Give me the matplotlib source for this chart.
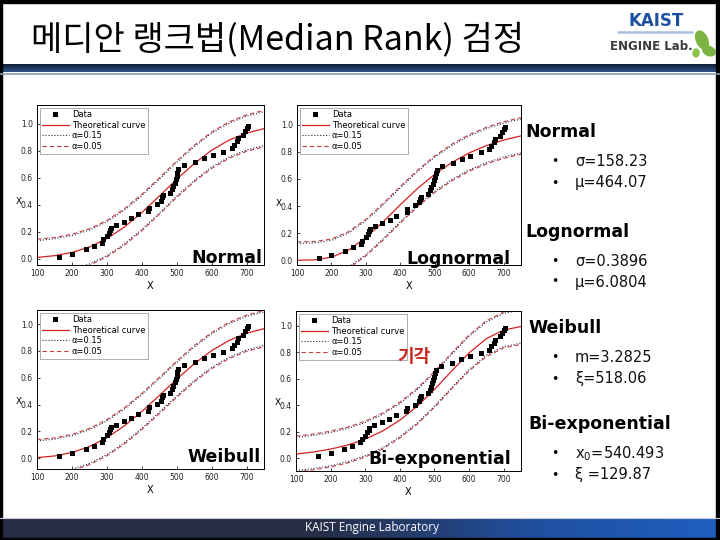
import numpy as np
import matplotlib.pyplot as plt
from matplotlib.colors import LinearSegmentedColormap
from matplotlib.patches import Ellipse, Rectangle
from matplotlib.lines import Line2D

W, H = 720, 540

# median-rank data (same for all four fits)
data_x = [163, 200, 240, 262, 285, 290, 300, 306, 310, 312, 325, 348, 370, 388,
          418, 420, 443, 455, 458, 460, 480, 486, 490, 494, 497, 500, 502, 505,
          520, 552, 578, 603, 633, 658, 663, 672, 676, 690, 695, 700, 703]
data_y = [0.015, 0.04, 0.07, 0.095, 0.12, 0.145, 0.17, 0.195, 0.215, 0.23, 0.25,
          0.275, 0.30, 0.33, 0.355, 0.38, 0.405, 0.43, 0.455, 0.47, 0.49, 0.515,
          0.54, 0.565, 0.59, 0.615, 0.64, 0.665, 0.695, 0.72, 0.745, 0.77, 0.795,
          0.82, 0.845, 0.87, 0.895, 0.92, 0.945, 0.97, 0.985]

# theoretical curves read along x
curve_x = [100, 150, 200, 250, 300, 350, 400, 450, 500, 550, 600, 650, 700, 750]
normal_cdf = [0.011, 0.024, 0.048, 0.088, 0.150, 0.236, 0.343, 0.465, 0.590,
              0.706, 0.805, 0.880, 0.932, 0.965]
lognormal_cdf = [0.000, 0.003, 0.022, 0.076, 0.167, 0.284, 0.410, 0.530, 0.635,
                 0.722, 0.792, 0.846, 0.887, 0.917]
weibull_cdf = [0.005, 0.017, 0.043, 0.087, 0.153, 0.241, 0.348, 0.467, 0.589,
               0.704, 0.802, 0.878, 0.932, 0.966]
biexp_cdf = [0.033, 0.048, 0.070, 0.101, 0.145, 0.206, 0.288, 0.392, 0.519,
             0.659, 0.794, 0.902, 0.967, 0.993]

# confidence band half-widths
band_015 = 0.125
band_005 = 0.135

panel_names = ['Normal', 'Lognormal', 'Weibull', 'Bi-exponential']
x_ticks = [100, 200, 300, 400, 500, 600, 700]
y_ticks = [0.0, 0.2, 0.4, 0.6, 0.8, 1.0]

param_lines = {
    'Normal': ['σ=158.23', 'μ=464.07'],
    'Lognormal': ['σ=0.3896', 'μ=6.0804'],
    'Weibull': ['m=3.2825', 'ξ=518.06'],
    'Bi-exponential': [r'x$_0$=540.493', 'ξ =129.87'],
}


def px_rect(l, t, r, b):
    return [l / W, 1 - b / H, (r - l) / W, (b - t) / H]


fig = plt.figure(figsize=(7.2, 5.4), dpi=100)
fig.patch.set_facecolor('white')

# (curve, axes box in px, ylim, label right x, label y)
panels = [
    (normal_cdf, (37, 105, 264, 265), (-0.045, 1.14), 262, 258),
    (lognormal_cdf, (297, 105, 521, 265), (-0.035, 1.145), 511, 259),
    (weibull_cdf, (37, 310, 264, 469), (-0.08, 1.105), 261, 457),
    (biexp_cdf, (296, 311, 521, 471), (-0.095, 1.11), 511, 459),
]

axes = []
for name, (cdf, box, ylim, lx, ly) in zip(panel_names, panels):
    ax = fig.add_axes(px_rect(*box))
    axes.append(ax)
    cdf = np.array(cdf)
    ax.plot(curve_x, cdf + band_015, ':', color='#2a2a50', lw=0.8)
    ax.plot(curve_x, cdf - band_015, ':', color='#2a2a50', lw=0.8)
    ax.plot(curve_x, cdf + band_005, '--', color='#c04040', lw=0.8, dashes=(4, 2.5))
    ax.plot(curve_x, cdf - band_005, '--', color='#c04040', lw=0.8, dashes=(4, 2.5))
    ax.plot(curve_x, cdf, '-', color='#d42020', lw=0.9)
    ax.plot(data_x, data_y, 's', color='black', ms=3.6, mew=0)

    ax.set_xlim(100, 750)
    ax.set_ylim(*ylim)
    ax.set_xticks(x_ticks)
    ax.set_yticks(y_ticks)
    ax.set_yticklabels([f'{v:.1f}' for v in y_ticks])
    ax.tick_params(labelsize=5.5, length=2, width=0.6, direction='in',
                   pad=3, colors='#222222')
    for s in ax.spines.values():
        s.set_linewidth(0.7)
    ax.set_xlabel('X', fontsize=7, labelpad=2)

    handles = [
        Line2D([], [], ls='none', marker='s', color='black', ms=3.6, mew=0),
        Line2D([], [], color='#d42020', lw=0.9),
        Line2D([], [], ls=':', color='#2a2a50', lw=0.8),
        Line2D([], [], ls='--', color='#c04040', lw=0.8, dashes=(4, 2.5)),
    ]
    leg = ax.legend(handles, ['Data', 'Theoretical curve', 'α=0.15', 'α=0.05'],
                    loc='upper left', fontsize=6, frameon=True, fancybox=False,
                    edgecolor='#888888', borderpad=0.3, labelspacing=0.2,
                    handlelength=3.2, handletextpad=0.4, borderaxespad=0.3)
    leg.get_frame().set_linewidth(0.6)

# overlay for slide decorations and text, in pixel coords
ov = fig.add_axes([0, 0, 1, 1], zorder=10)
ov.patch.set_alpha(0)
ov.axis('off')

top_cmap = LinearSegmentedColormap.from_list('top', ['#0f1d38', '#2d5282'])
ov.imshow(np.linspace(0, 1, 20).reshape(-1, 1), cmap=top_cmap, aspect='auto',
          extent=(0, W, 72, 64))
ov.plot([0, W], [73.5, 73.5], color='#8a9ab2', lw=1.2)

bot_cmap = LinearSegmentedColormap.from_list(
    'bot', [(0, '#252c44'), (0.45, '#262e48'), (0.75, '#2050a0'), (1, '#1f5fc0')])
ov.imshow(np.linspace(0, 1, 200).reshape(1, -1), cmap=bot_cmap, aspect='auto',
          extent=(0, W, 538, 518))
ov.plot([0, W], [518, 518], color='#c8ccd4', lw=0.8)

# black frame
ov.add_patch(Rectangle((0, 0), 2, H, color='black'))
ov.add_patch(Rectangle((0, 0), W, 2.5, color='black'))
ov.add_patch(Rectangle((716, 0), 4, H, color='black'))
ov.add_patch(Rectangle((0, 537.5), W, 2.5, color='black'))

ov.set_xlim(0, W)
ov.set_ylim(H, 0)

# title
ov.text(31, 40, '메디안 랭크법(Median Rank) 검정', fontsize=24.5, ha='left',
        va='center', fontweight='medium',
        family=['Noto Sans CJK KR', 'DejaVu Sans'], color='black')

# logo
ov.text(656, 21, 'KAIST', fontsize=12, fontweight='bold', color='#1c4fa0',
        ha='center', va='center')
ov.plot([618, 692], [32, 32], color='#a8c0e0', lw=1.8, solid_capstyle='round')
ov.text(651, 46, 'ENGINE Lab.', fontsize=8.5, fontweight='bold', color='#3a3a3a',
        ha='center', va='center', family=['Liberation Sans Narrow', 'DejaVu Sans'])
ov.add_patch(Ellipse((702, 40), 11, 19, angle=-25, color='#7cb342'))
ov.add_patch(Ellipse((709, 51), 13, 9, angle=25, color='#7cb342'))
ov.add_patch(Ellipse((696, 53), 6, 8, angle=0, color='#8bc34a'))

# footer
ov.text(372, 528, 'KAIST Engine Laboratory', fontsize=8.5, color='white',
        ha='center', va='center', family=['Open Sans', 'DejaVu Sans'])

# in-plot panel labels and the y-axis "X" marks
for ax, name, (cdf, box, ylim, lx, ly) in zip(axes, panel_names, panels):
    ov.text(lx, ly, name, fontsize=12.5, fontweight='bold', ha='right', va='center',
            color='black')
    y04 = box[3] - (0.4 - ylim[0]) / (ylim[1] - ylim[0]) * (box[3] - box[1])
    ov.text(box[0] - 18, y04 - 3, 'X', fontsize=6.5, ha='center', va='center')

ov.text(414, 357, '기각', fontsize=13, fontweight='bold', color='#c8281e',
        ha='center', va='center', family=['Noto Sans CJK KR', 'DejaVu Sans'])

# right-hand parameter list
heading_y = [132, 232, 328, 424]
heading_x = [525, 525, 528, 528]
line_y = [(162, 183), (261, 282), (357, 379), (454, 475)]
for name, hx, hy, ys in zip(panel_names, heading_x, heading_y, line_y):
    ov.text(hx, hy, name, fontsize=12.5, fontweight='bold', ha='left', va='center')
    for txt, y in zip(param_lines[name], ys):
        ov.text(555, y, '•', fontsize=9, ha='center', va='center')
        ov.text(575, y, txt, fontsize=10.5, ha='left', va='center', color='#111111')

fig.savefig('out.png', dpi=100)
